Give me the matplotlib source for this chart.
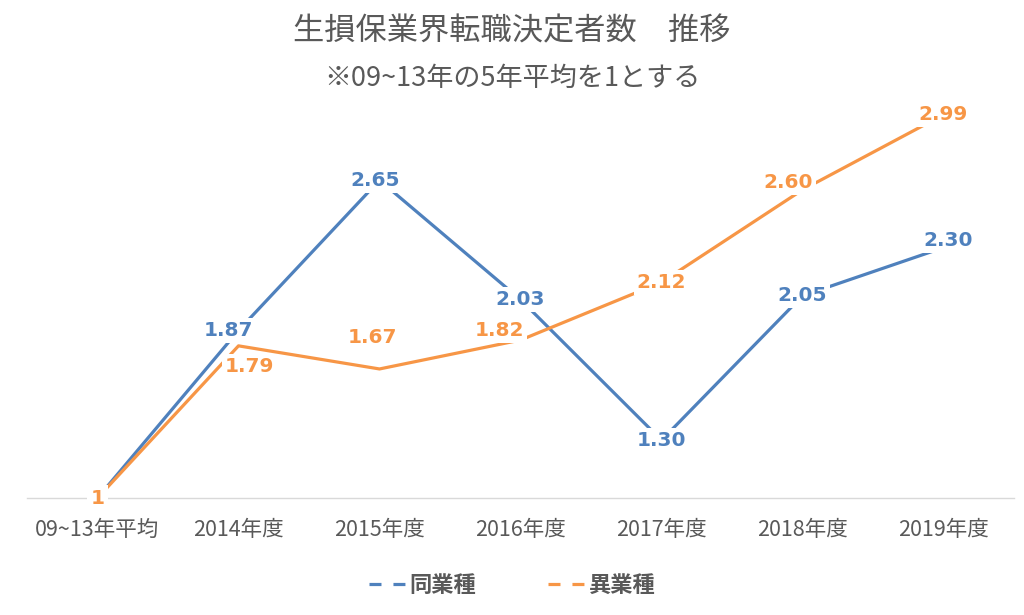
import matplotlib
matplotlib.use("Agg")
import matplotlib.pyplot as plt
from matplotlib.lines import Line2D

plt.rcParams['font.family'] = ['Noto Sans CJK JP', 'DejaVu Sans']

categories = ["09~13年平均", "2014年度", "2015年度", "2016年度", "2017年度", "2018年度", "2019年度"]
same_industry = [1, 1.87, 2.65, 2.03, 1.30, 2.05, 2.30]
other_industry = [1, 1.79, 1.67, 1.82, 2.12, 2.60, 2.99]
series_names = ["同業種", "異業種"]
title = "生損保業界転職決定者数　推移"
subtitle = "※09~13年の5年平均を1とする"

BLUE = "#4F81BD"
ORANGE = "#F79646"
GRAY = "#595959"

# label offsets in pixels (dx, dy up)
blue_off = [(0, 0), (-10, 0), (-4, 0), (0, 0), (0, 0), (0, 0), (5, 7)]
orange_off = [(0, 0), (11, -21), (-7, 31), (-21, 10), (0, 0), (-14, 7), (0, 0)]

fig = plt.figure(figsize=(10.24, 6.15), dpi=100)
ax = fig.add_axes([27/1024, (615-498)/615, 987/1024, (498-112.8)/615])
x = list(range(len(categories)))
ax.set_xlim(-0.5, len(categories) - 0.5)
ax.set_ylim(1, 3.0)

ax.plot(x, same_industry, color=BLUE, lw=2.3, clip_on=False, zorder=2, solid_capstyle='butt')
ax.plot(x, other_industry, color=ORANGE, lw=2.3, clip_on=False, zorder=2, solid_capstyle='butt')

def lab(v):
    return "1" if v == 1 else f"{v:.2f}"

for vals, col, offs, z in [(same_industry, BLUE, blue_off, 5), (other_industry, ORANGE, orange_off, 6)]:
    for i, v in enumerate(vals):
        ax.annotate(lab(v), (i, v), xytext=offs[i], textcoords='offset pixels',
                    ha='center', va='center', color=col, fontsize=14.5, fontweight='bold',
                    family=['DejaVu Sans'], zorder=z, annotation_clip=False,
                    bbox=dict(boxstyle='square,pad=0.15', fc='white', ec='none'))

for s in ['top', 'right', 'left']:
    ax.spines[s].set_visible(False)
ax.spines['bottom'].set_color('#D9D9D9')
ax.spines['bottom'].set_linewidth(1)
ax.spines['bottom'].set_zorder(1)
ax.set_yticks([])
ax.set_xticks(x)
ax.set_xticklabels(categories, fontsize=15.5, color=GRAY)
ax.tick_params(axis='x', length=0, pad=15)

fig.text(0.5, 1 - 31/615, title, ha='center', va='center', fontsize=22.5, color=GRAY)
fig.text(0.5, 1 - 78/615, subtitle, ha='center', va='center', fontsize=19.5, color=GRAY)

handles = [Line2D([], [], color=BLUE, lw=2.3, ls=(0, (3.75, 3.75))),
           Line2D([], [], color=ORANGE, lw=2.3, ls=(0, (3.75, 3.75)))]
leg = fig.legend(handles, series_names, loc='center', bbox_to_anchor=(0.5, 1 - 585/615),
                 ncol=2, frameon=False, fontsize=16, handlelength=1.65, handletextpad=0.2,
                 columnspacing=3.2)
for t in leg.get_texts():
    t.set_color(GRAY)
    t.set_fontweight('bold')

fig.savefig("out.png", dpi=100, facecolor='white')
